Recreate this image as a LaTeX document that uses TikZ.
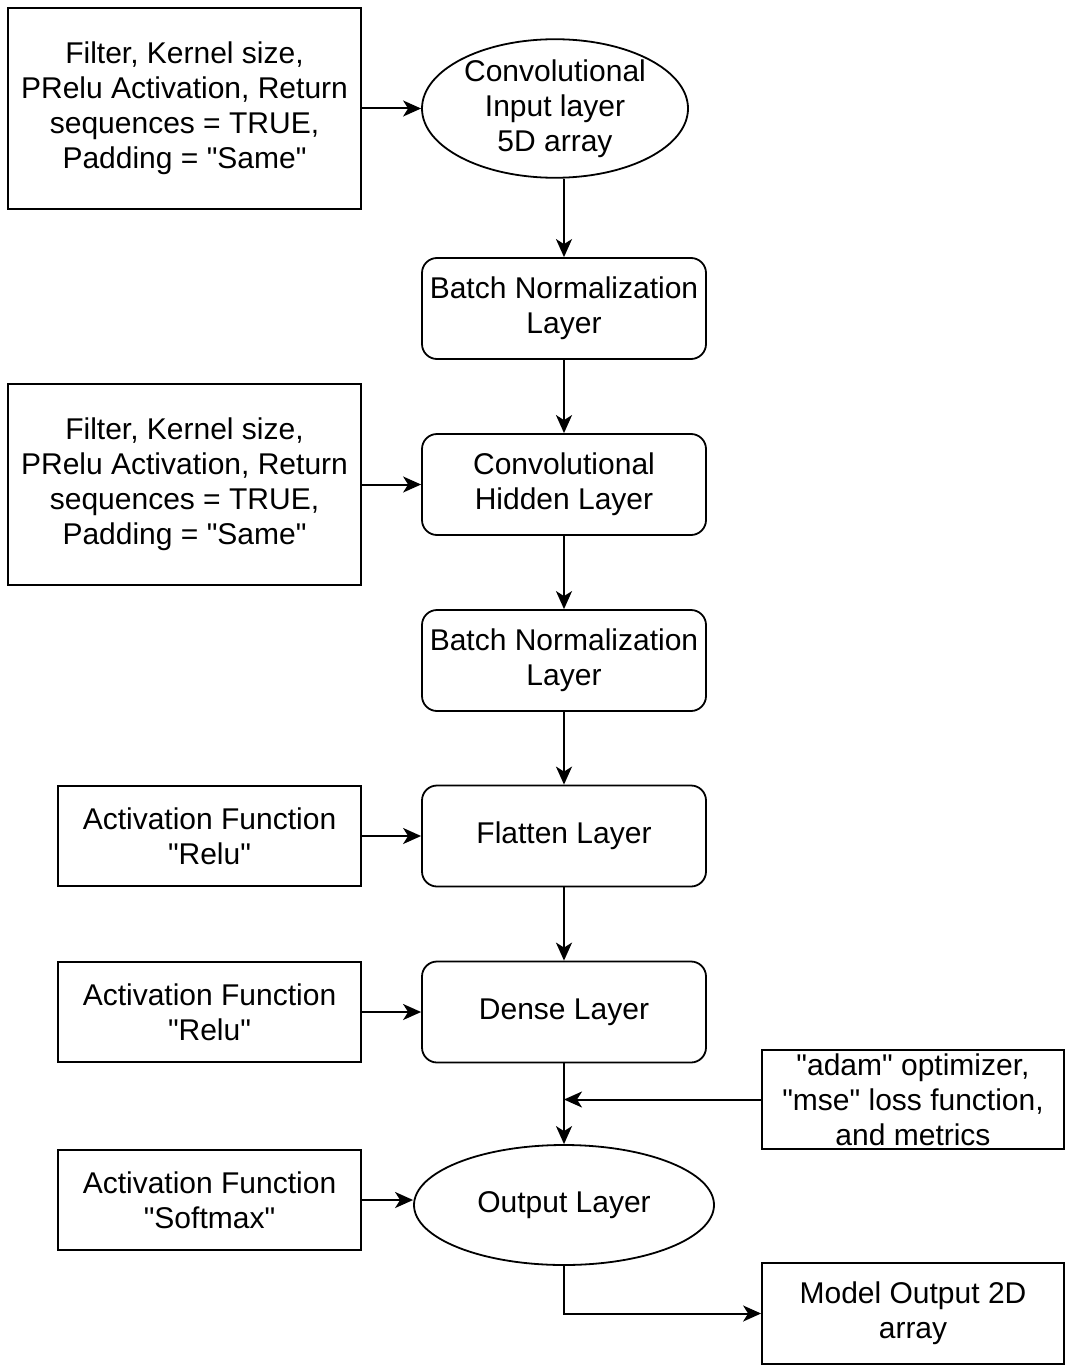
\documentclass[tikz,border=0pt]{standalone}
\usepackage{fontspec}
\setmainfont{Liberation Sans}
\usetikzlibrary{arrows.meta,shapes.geometric}
\newcommand{\dq}{\textquotedbl}
\begin{document}
\begin{tikzpicture}[x=1pt,y=-1pt,
  every node/.style={font=\fontsize{30}{35}\selectfont, align=center, inner sep=0pt, line width=1.8pt},
  param/.style={draw, rectangle, minimum width=353pt, minimum height=201pt},
  smallparam/.style={draw, rectangle, minimum width=303pt, minimum height=100pt},
  layer/.style={draw, rectangle, rounded corners=15pt, minimum width=284pt, minimum height=101pt},
  link/.style={line width=2pt, -{Stealth[length=18pt,width=16pt,inset=5pt]}}]
\useasboundingbox (0,0) rectangle (1066,1367);

% input side
\node[param] (p1) at (184.5,108.5) {Filter, Kernel size,\\PRelu Activation, Return\\sequences = TRUE,\\Padding = \dq Same\dq};
\node[draw, ellipse, minimum width=266pt, minimum height=137pt] (in) at (555,108.5) {Convolutional\\Input layer\\5D array};

% main stack
\node[layer] (bn1) at (564,308.5) {Batch Normalization\\Layer};
\node[param] (p2) at (184.5,484.5) {Filter, Kernel size,\\PRelu Activation, Return\\sequences = TRUE,\\Padding = \dq Same\dq};
\node[layer] (hid) at (564,484.5) {Convolutional\\Hidden Layer};
\node[layer] (bn2) at (564,660.5) {Batch Normalization\\Layer};
\node[layer] (flat) at (564,836) {Flatten Layer};
\node[smallparam] (a1) at (209.5,836) {Activation Function\\\dq Relu\dq};
\node[layer] (dense) at (564,1012) {Dense Layer};
\node[smallparam] (a2) at (209.5,1012) {Activation Function\\\dq Relu\dq};

% compile settings and output
\node[draw, rectangle, minimum width=302pt, minimum height=99pt] (opt) at (913,1099.5) {\dq adam\dq{} optimizer,\\\dq mse\dq{} loss function,\\and metrics};
\node[draw, ellipse, minimum width=300pt, minimum height=120pt] (out) at (564,1205) {Output Layer};
\node[smallparam] (a3) at (209.5,1200) {Activation Function\\\dq Softmax\dq};
\node[draw, rectangle, minimum width=302pt, minimum height=101pt] (res) at (913,1313.5) {Model Output 2D\\array};

% connectors
\draw[link] (p1) -- (in);
\draw[link] (in.south -| bn1.north) -- (bn1);
\draw[link] (bn1) -- (hid);
\draw[link] (p2) -- (hid);
\draw[link] (hid) -- (bn2);
\draw[link] (bn2) -- (flat);
\draw[link] (a1) -- (flat);
\draw[link] (flat) -- (dense);
\draw[link] (a2) -- (dense);
\draw[link] (dense) -- (out);
\draw[link] (opt.west) -- (opt.west -| dense.south);
\draw[link] (a3.east) -- (a3.east -| out.west);
\draw[link] (out.south) |- (res.west);
\end{tikzpicture}
\end{document}
